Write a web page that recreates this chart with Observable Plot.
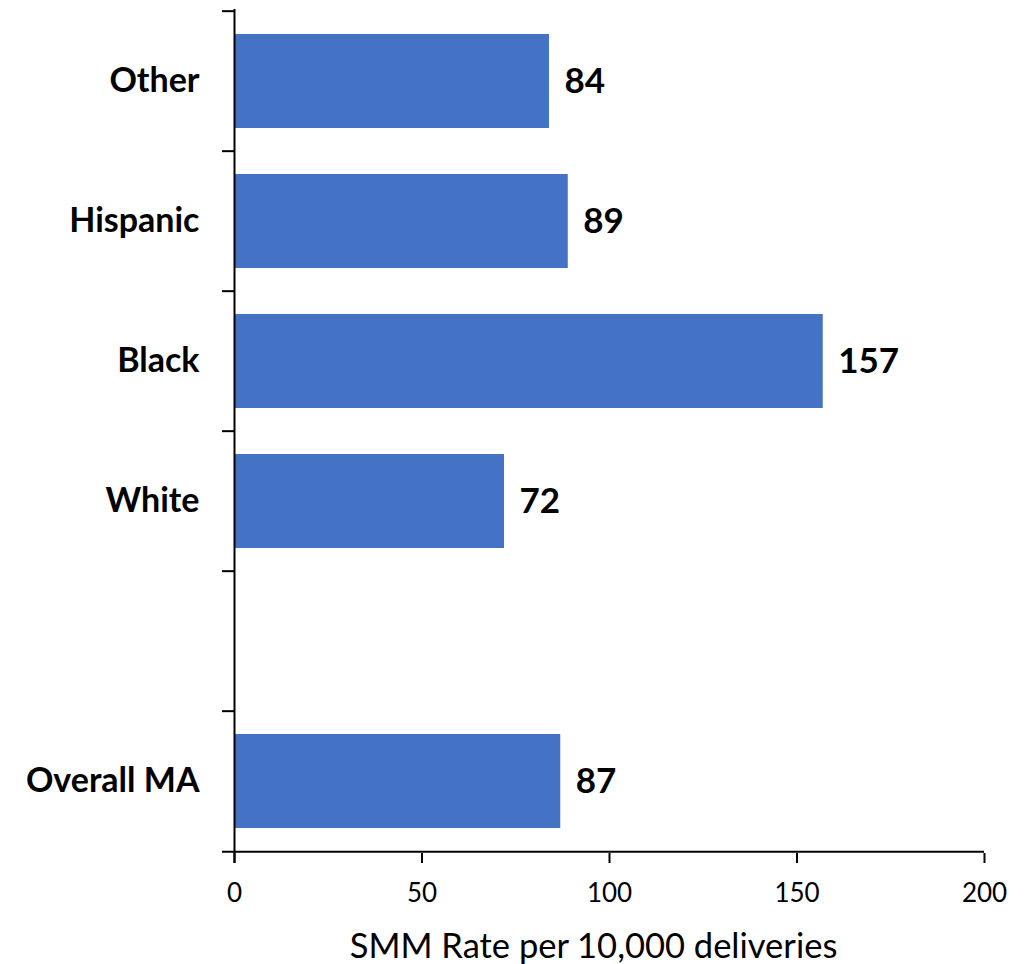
<!DOCTYPE html>
<html>
<head>
<meta charset="utf-8">
<script src="https://cdn.jsdelivr.net/npm/d3@7"></script>
<script src="https://cdn.jsdelivr.net/npm/@observablehq/plot@0.6"></script>
<style>
  html, body { margin: 0; padding: 0; background: #fff; }
  #chart svg { display: block; }
</style>
</head>
<body>
<div id="chart"></div>
<script>
const categories = ["Other", "Hispanic", "Black", "White", "", "Overall MA"];
const rates = [84, 89, 157, 72, null, 87];
const xTicks = [0, 50, 100, 150, 200];
const xTitle = "SMM Rate per 10,000 deliveries";

const data = categories
  .map((c, i) => ({category: c, rate: rates[i]}))
  .filter(d => d.rate != null);

const W = 1033, H = 964;
const mTop = 9, mBottom = 111, mLeft = 234, mRight = 49;
const step = (H - mTop - mBottom) / categories.length;
const font = "Lato, 'Open Sans', sans-serif";

const chart = Plot.plot({
  width: W,
  height: H,
  marginTop: mTop,
  marginBottom: mBottom,
  marginLeft: mLeft,
  marginRight: mRight,
  style: {fontFamily: font, background: "#fff", color: "#000"},
  x: {domain: [0, 200]},
  y: {domain: categories, paddingInner: 0.33, paddingOuter: 0.165, axis: null},
  marks: [
    Plot.barX(data, {x: "rate", y: "category", fill: "#4472C4"}),
    // value labels
    Plot.text(data, {x: "rate", y: "category", text: d => String(d.rate),
      textAnchor: "start", dx: 15, fontSize: 35, fontWeight: "bold", fill: "#000"}),
    // category labels
    Plot.text(categories, {x: 0, y: d => d, text: d => d, textAnchor: "end",
      dx: -35, fontSize: 34, fontWeight: "bold", fill: "#000"}),
    // boundary ticks on y axis
    Plot.ruleY(categories, {y: d => d, x1: 0, x2: 0, insetLeft: -12, dy: -step / 2,
      stroke: "#000", strokeWidth: 2}),
    // x axis baseline
    Plot.ruleY([categories[categories.length - 1]], {y: d => d, x1: 0, x2: 200, insetLeft: -12,
      dy: step / 2, stroke: "#000", strokeWidth: 2}),
    // y axis line
    Plot.ruleX([0], {stroke: "#000", strokeWidth: 2, insetBottom: -10}),
    Plot.axisX(xTicks, {tickSize: 10, tickPadding: 20, fontSize: 26, strokeWidth: 2,
      stroke: "#000", fill: "#000", label: null}),
    Plot.text([xTitle], {frameAnchor: "bottom", dy: 93, dx: -16, lineAnchor: "middle",
      fontSize: 34.5, fill: "#000"})
  ]
});

document.getElementById("chart").appendChild(chart);
</script>
</body>
</html>
